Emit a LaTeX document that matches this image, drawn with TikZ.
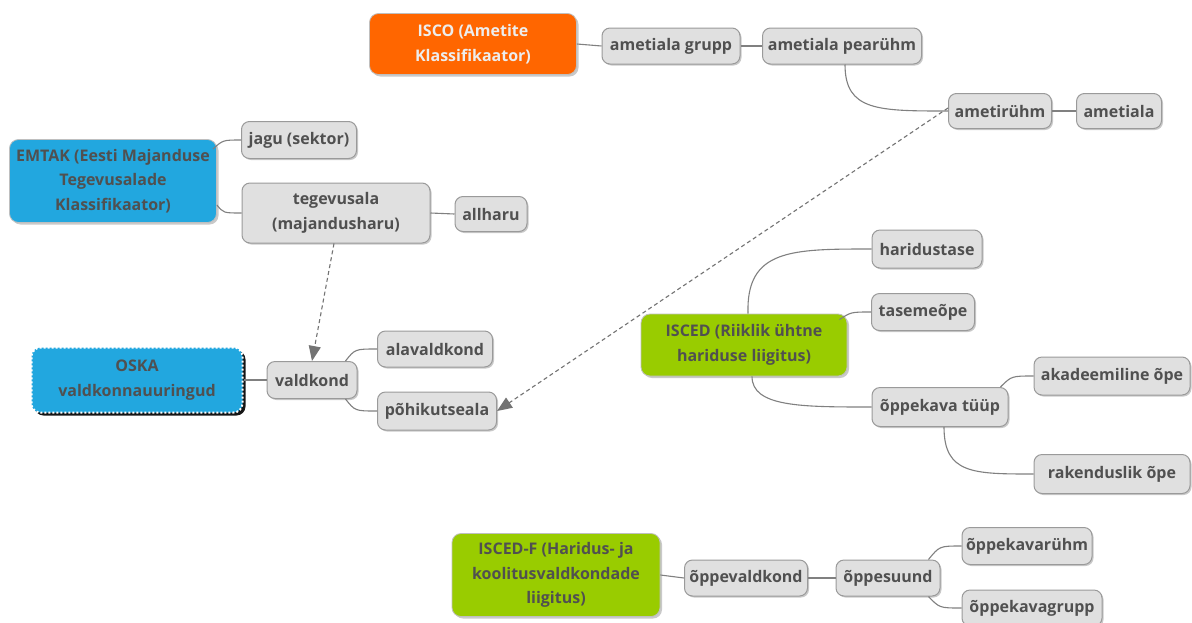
\documentclass[tikz,border=0pt]{standalone}
\usepackage{fontspec}
\setmainfont{Open Sans}
\usetikzlibrary{shadows,arrows.meta,calc}
\definecolor{txt}{HTML}{505050}
\definecolor{subfill}{HTML}{E0E0E0}
\definecolor{subdraw}{HTML}{9A9A9A}
\definecolor{conncol}{HTML}{808080}
\definecolor{iscocol}{HTML}{FF6600}
\definecolor{bluecol}{HTML}{22A7DF}
\definecolor{greencol}{HTML}{99CC00}
\tikzset{
  sub/.style={draw=subdraw, line width=1pt, fill=subfill, rounded corners=8pt,
    text=txt, font=\fontsize{16}{24.5}\selectfont\bfseries, align=center, inner sep=0pt,
    drop shadow={shadow xshift=1.5pt, shadow yshift=-1.5pt, opacity=0.35, fill=black!60}},
  mainbox/.style={draw=black!25, line width=0.8pt, rounded corners=9pt,
    text=txt, font=\fontsize{16}{24.5}\selectfont\bfseries, align=center, inner sep=0pt,
    drop shadow={shadow xshift=2pt, shadow yshift=-2pt, opacity=0.35, fill=black!60}},
  conn/.style={draw=conncol, line width=1.1pt},
  dasharrow/.style={draw=conncol!90!black, line width=1.1pt, dash pattern=on 4pt off 3pt,
    -{Triangle[length=15pt,width=12pt]}},
}
\begin{document}
\begin{tikzpicture}[x=1pt,y=-1pt]
\useasboundingbox[fill=white] (0,0) rectangle (1192,622);

% main nodes
\node[mainbox, fill=iscocol, text=white!93!black, minimum width=207pt, minimum height=61pt] (isco) at (473,44) {ISCO (Ametite\\Klassifikaator)};
\node[mainbox, fill=bluecol, minimum width=207pt, minimum height=83pt] (emtak) at (113,181) {EMTAK (Eesti Majanduse\\Tegevusalade\\Klassifikaator)};
\node[mainbox, fill=bluecol, draw=white, line width=2pt, dash pattern=on 2pt off 2pt, minimum width=211pt, minimum height=65pt,
  drop shadow={shadow xshift=3pt, shadow yshift=-3pt, opacity=0.9, fill=black}] (oska) at (137,380) {OSKA\\valdkonnauuringud};
\node[mainbox, fill=greencol, minimum width=206pt, minimum height=62pt] (isced) at (744,345) {ISCED (Riiklik ühtne\\hariduse liigitus)};
\node[mainbox, fill=greencol, minimum width=208pt, minimum height=83pt] (iscedf) at (556,575) {ISCED-F (Haridus- ja\\koolitusvaldkondade\\liigitus)};

% sub nodes
\node[sub, minimum width=138pt, minimum height=36pt] (grupp) at (671,46) {ametiala grupp};
\node[sub, minimum width=159pt, minimum height=36pt] (pear) at (842,46) {ametiala pearühm};
\node[sub, minimum width=103pt, minimum height=35pt] (ryhm) at (1000,111) {ametirühm};
\node[sub, minimum width=85pt, minimum height=35pt] (ameti) at (1119,111) {ametiala};
\node[sub, minimum width=115pt, minimum height=37pt] (jagu) at (299,140) {jagu (sektor)};
\node[sub, minimum width=188pt, minimum height=60pt] (tegev) at (336,213) {tegevusala\\(majandusharu)};
\node[sub, minimum width=72pt, minimum height=35pt] (allharu) at (491,214) {allharu};
\node[sub, minimum width=90pt, minimum height=37pt] (vald) at (312,380) {valdkond};
\node[sub, minimum width=115pt, minimum height=36pt] (alav) at (435,349) {alavaldkond};
\node[sub, minimum width=119pt, minimum height=38pt] (pohi) at (437,411) {põhikutseala};
\node[sub, minimum width=110pt, minimum height=38pt] (harid) at (927,249) {haridustase};
\node[sub, minimum width=103pt, minimum height=37pt] (tasem) at (923,312) {tasemeõpe};
\node[sub, minimum width=136pt, minimum height=39pt] (okt) at (940,407) {õppekava tüüp};
\node[sub, minimum width=156pt, minimum height=38pt] (akad) at (1112,376) {akadeemiline õpe};
\node[sub, minimum width=156pt, minimum height=39pt] (raken) at (1112,474) {rakenduslik õpe};
\node[sub, minimum width=123pt, minimum height=36pt] (oval) at (746,578) {õppevaldkond};
\node[sub, minimum width=104pt, minimum height=36pt] (osuund) at (888,578) {õppesuund};
\node[sub, minimum width=130pt, minimum height=37pt] (oryhm) at (1027,546) {õppekavarühm};
\node[sub, minimum width=140pt, minimum height=36pt] (ogrupp) at (1032,608) {õppekavagrupp};

% connectors
\draw[conn] (isco.east) -- (grupp.west);
\draw[conn] (grupp.east) -- (pear.west);
\draw[conn] ([xshift=3pt]pear.south) .. controls ([xshift=3pt]pear.south |- ryhm.west) and ($(ryhm.west)+(-70,0)$) .. (ryhm.west);
\draw[conn] (ryhm.east) -- (ameti.west);

\draw[conn] ([xshift=-4pt,yshift=32pt]emtak.east) .. controls ($(jagu.west)+(-18,0)$) .. (jagu.west);
\draw[conn] ([yshift=-24pt]emtak.east) .. controls ($(tegev.west)+(-18,0)$) .. (tegev.west);
\draw[conn] (tegev.east) -- (allharu.west);

\draw[conn] (oska.east) -- (vald.west);
\draw[conn] ([xshift=-12pt]vald.north east) .. controls ($(alav.west)+(-22,0)$) .. (alav.west);
\draw[conn] ([xshift=-12pt]vald.south east) .. controls ($(pohi.west)+(-22,0)$) .. (pohi.west);

\draw[conn] ([xshift=4pt]isced.north) .. controls ([xshift=2pt]isced.north |- harid.west) and ($(harid.west)+(-80,0)$) .. (harid.west);
\draw[conn] ([xshift=-8pt,yshift=-6pt]isced.north east) .. controls ($(tasem.west)+(-20,0)$) .. (tasem.west);
\draw[conn] ([xshift=8pt]isced.south) .. controls ([xshift=8pt]isced.south |- okt.west) and ($(okt.west)+(-70,0)$) .. (okt.west);

\draw[conn] ([xshift=-8pt]okt.north east) .. controls ($(akad.west)+(-22,0)$) .. (akad.west);
\draw[conn] ([xshift=4pt]okt.south) .. controls ([xshift=4pt]okt.south |- raken.west) and ($(raken.west)+(-60,0)$) .. (raken.west);

\draw[conn] (iscedf.east) -- (oval.west);
\draw[conn] (oval.east) -- (osuund.west);
\draw[conn] ([xshift=-12pt]osuund.north east) .. controls ($(oryhm.west)+(-22,0)$) .. (oryhm.west);
\draw[conn] ([xshift=-12pt]osuund.south east) .. controls ($(ogrupp.west)+(-22,0)$) .. (ogrupp.west);

% dashed relations
\draw[dasharrow] ([xshift=-2pt]tegev.south) -- (vald.north);
\draw[dasharrow] ([yshift=3pt]ryhm.west) -- (pohi.east);
\end{tikzpicture}
\end{document}
